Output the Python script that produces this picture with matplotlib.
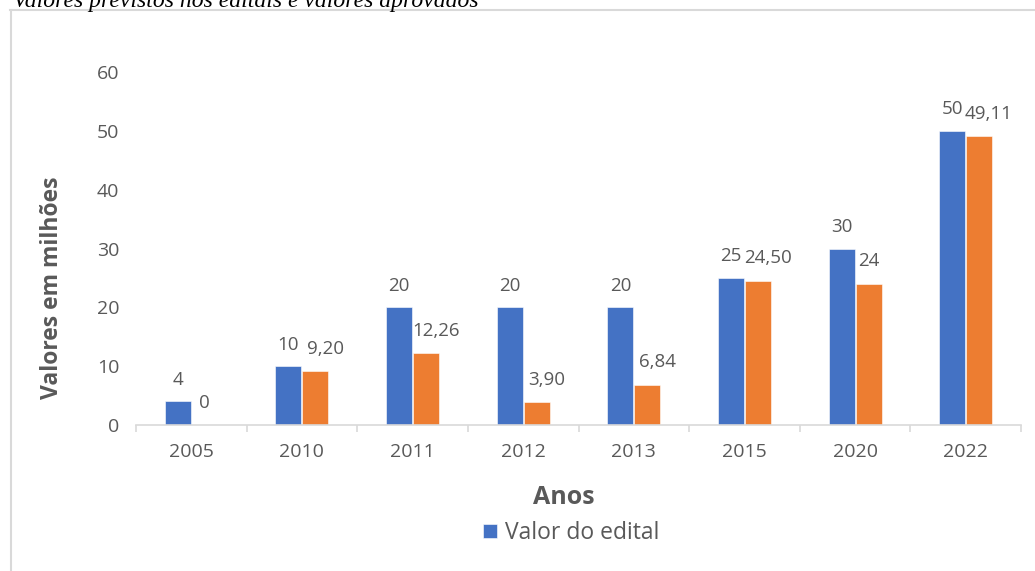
import numpy as np
import matplotlib.pyplot as plt
from matplotlib.lines import Line2D

# Data
anos = ['2005', '2010', '2011', '2012', '2013', '2015', '2020', '2022']
valor_edital = [4, 10, 20, 20, 20, 25, 30, 50]
valor_aprovado = [0, 9.20, 12.26, 3.90, 6.84, 24.50, 24, 49.11]
rotulos_edital = ['4', '10', '20', '20', '20', '25', '30', '50']
rotulos_aprovado = ['0', '9,20', '12,26', '3,90', '6,84', '24,50', '24', '49,11']

cinza = '#595959'
azul = '#4472C4'
laranja = '#ED7D31'

plt.rcParams['font.family'] = ['Open Sans', 'DejaVu Sans']

W, H = 1035, 571
fig = plt.figure(figsize=(W / 100, H / 100), dpi=100)
ax = fig.add_axes([136 / W, 1 - 425 / H, 885 / W, 353 / H])

x = np.arange(len(anos))
largura = 0.235
b1 = ax.bar(x - 0.122, valor_edital, largura, color=azul, edgecolor='white', linewidth=0.4,
            label='Valor do edital')
b2 = ax.bar(x + 0.122, valor_aprovado, largura, color=laranja, edgecolor='white', linewidth=0.4,
            label='Valor aprovado')

# data labels
for rect, txt in zip(b1, rotulos_edital):
    ax.annotate(txt, (rect.get_x() + rect.get_width() / 2, rect.get_height()),
                xytext=(0, 12), textcoords='offset points', ha='center', va='baseline',
                fontsize=13.5, color=cinza)
for rect, txt in zip(b2, rotulos_aprovado):
    dx = 7 if ',' in txt else 0
    ax.annotate(txt, (rect.get_x() + rect.get_width() / 2, rect.get_height()),
                xytext=(dx, 12.5), textcoords='offset points', ha='center', va='baseline',
                fontsize=13.5, color=cinza)

ax.set_xlim(-0.5, len(anos) - 0.5)
ax.set_ylim(0, 60)
ax.set_yticks(range(0, 61, 10))
ax.set_xticks(x)
ax.set_xticklabels(anos)
ax.set_xticks(np.arange(-0.5, len(anos)), minor=True)

for s in ['top', 'right', 'left']:
    ax.spines[s].set_visible(False)
ax.spines['bottom'].set_color('#D9D9D9')
ax.spines['bottom'].set_linewidth(1.2)

ax.tick_params(axis='y', length=0, pad=12, labelsize=14, labelcolor=cinza)
ax.tick_params(axis='x', which='major', length=0, pad=13, labelsize=14, labelcolor=cinza)
ax.tick_params(axis='x', which='minor', length=5, width=1.2, color='#D9D9D9')

fig.text(52 / W, 1 - 288 / H, 'Valores em milhões', rotation=90, ha='center', va='center',
         fontsize=16.5, fontweight='bold', color=cinza)
fig.text(564 / W, 1 - 497 / H, 'Anos', ha='center', va='center',
         fontsize=18, fontweight='bold', color=cinza)

leg = fig.legend(handles=[b1], loc='center', bbox_to_anchor=(571 / W, 1 - 533 / H),
                 frameon=False, fontsize=16.5, handlelength=0.6, handleheight=0.6,
                 handletextpad=0.35, borderpad=0)
for t in leg.get_texts():
    t.set_color(cinza)

# chart frame (partly cut off) and caption above it
fig.add_artist(Line2D([11 / W, 11 / W], [0, 1 - 10 / H], color='#D9D9D9', linewidth=1.5,
                      transform=fig.transFigure))
fig.add_artist(Line2D([10 / W, 1], [1 - 10 / H, 1 - 10 / H], color='#D9D9D9', linewidth=1.5,
                      transform=fig.transFigure))
fig.text(13 / W, 1 - 7 / H, 'Valores previstos nos editais e valores aprovados',
         family='Liberation Serif', style='italic', fontsize=17, va='baseline', color='black')

plt.savefig('out.png', dpi=100)
